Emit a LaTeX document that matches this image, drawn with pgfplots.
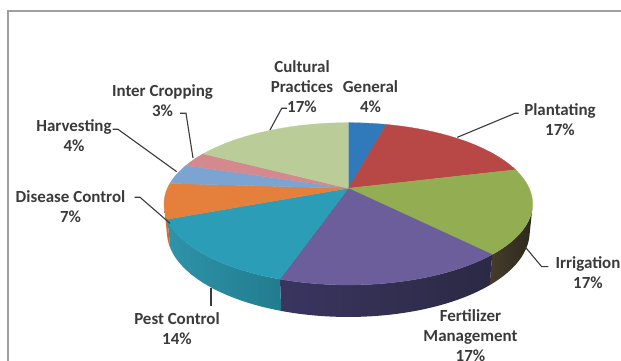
\documentclass[border=0pt]{standalone}
\usepackage{pgfplots}
\pgfplotsset{compat=1.18}
\usepackage{pgfplotstable}
\usepackage{fontspec}
\setmainfont{Carlito}

% slice shares in percent, clockwise from the back of the pie
\pgfplotstableread[col sep=comma]{
label,share
General,4
Plantating,17
Irrigation,17
Fertilizer Management,17
Pest Control,14
Disease Control,7
Harvesting,4
Inter Cropping,3
Cultural Practices,17
}\sharetable

% top faces
\definecolor{top0}{HTML}{3079BB}
\definecolor{top1}{HTML}{B84845}
\definecolor{top2}{HTML}{93AE52}
\definecolor{top3}{HTML}{6B5E9B}
\definecolor{top4}{HTML}{2B9DB7}
\definecolor{top5}{HTML}{E57F3C}
\definecolor{top6}{HTML}{7CA4D2}
\definecolor{top7}{HTML}{D4898E}
\definecolor{top8}{HTML}{BACC98}
% side walls (left and right end of the shading)
\definecolor{sideL0}{HTML}{24598B}\definecolor{sideR0}{HTML}{24598B}
\definecolor{sideL1}{HTML}{8A3533}\definecolor{sideR1}{HTML}{8A3533}
\definecolor{sideL2}{HTML}{453C2B}\definecolor{sideR2}{HTML}{2E291E}
\definecolor{sideL3}{HTML}{3A3560}\definecolor{sideR3}{HTML}{2B2944}
\definecolor{sideL4}{HTML}{2E93A9}\definecolor{sideR4}{HTML}{227C8F}
\definecolor{sideL5}{HTML}{CD7432}\definecolor{sideR5}{HTML}{C46C2D}
\definecolor{sideL6}{HTML}{5C7EA6}\definecolor{sideR6}{HTML}{5C7EA6}
\definecolor{sideL7}{HTML}{A4676B}\definecolor{sideR7}{HTML}{A4676B}
\definecolor{sideL8}{HTML}{8E9E73}\definecolor{sideR8}{HTML}{8E9E73}
\definecolor{labelgray}{HTML}{3A3A3A}
\definecolor{framegray}{HTML}{A0A0A0}

% perspective view of the pie: angle clockwise from the back, height z
\def\cx{348.3}
\def\cy{172.7}
\pgfmathdeclarefunction{pX}{2}{%
  \begingroup
  \pgfmathparse{\cx+852*sin(#1)/(4.71+0.902*cos(#1)-0.432*(#2))}%
  \pgfmathsmuggle\pgfmathresult
  \endgroup}
\pgfmathdeclarefunction{pY}{2}{%
  \begingroup
  \pgfmathparse{\cy+852*(0.432*cos(#1)+0.902*(#2))/(4.71+0.902*cos(#1)-0.432*(#2))}%
  \pgfmathsmuggle\pgfmathresult
  \endgroup}
\def\depth{-0.171}

\begin{document}
\begin{tikzpicture}
\useasboundingbox (0,0) rectangle (621bp,361bp);
\begin{axis}[
  at={(0,0)}, anchor=south west,
  x=1bp, y=1bp,
  xmin=0, xmax=621, ymin=0, ymax=361,
  hide axis, clip=true,
]
\pgfplotstablegetrowsof{\sharetable}
\pgfmathtruncatemacro\nlast{\pgfplotsretval-1}

% chart frame
\draw[framegray, line width=2bp] (axis cs:8,350) rectangle (axis cs:700,-50);

% visible side walls
\def\cum{0}
\pgfplotsforeachungrouped \i in {0,...,\nlast}{%
  \pgfplotstablegetelem{\i}{share}\of\sharetable
  \let\share\pgfplotsretval
  \pgfmathsetmacro\ta{max(3.6*\cum,103.6)}%
  \pgfmathsetmacro\tb{min(3.6*(\cum+\share),256.4)}%
  \pgfmathsetmacro\cum{\cum+\share}%
  \pgfmathtruncatemacro\vis{\tb>\ta ? 1 : 0}%
  \ifnum\vis=1
    \edef\cmd{\noexpand\path[left color=sideL\i, right color=sideR\i]
      plot[domain=\ta:\tb, samples=40, variable=\noexpand\t]
        (axis cs:{pX(\noexpand\t,0)},{pY(\noexpand\t,0)})
      -- plot[domain=\tb:\ta, samples=40, variable=\noexpand\t]
        (axis cs:{pX(\noexpand\t,\depth)},{pY(\noexpand\t,\depth)})
      -- cycle;}%
    \cmd
  \fi
}

% top faces
\def\cum{0}
\pgfplotsforeachungrouped \i in {0,...,\nlast}{%
  \pgfplotstablegetelem{\i}{share}\of\sharetable
  \let\share\pgfplotsretval
  \pgfmathsetmacro\ta{3.6*\cum}%
  \pgfmathsetmacro\tb{3.6*(\cum+\share)}%
  \pgfmathsetmacro\cum{\cum+\share}%
  \edef\cmd{\noexpand\fill[top\i, draw=top\i, line width=0.3bp]
    (axis cs:\cx,\cy)
    -- plot[domain=\ta:\tb, samples=40, variable=\noexpand\t]
      (axis cs:{pX(\noexpand\t,0)},{pY(\noexpand\t,0)})
    -- cycle;}%
  \cmd
}

% leader lines
\draw[labelgray, line width=1.1bp] (axis cs:457.3,223.7) -- (axis cs:515,247.7) -- (axis cs:518.5,247.7);
\draw[labelgray, line width=1.1bp] (axis cs:525,114.3) -- (axis cs:541.7,94.3) -- (axis cs:548.3,94.3);
\draw[labelgray, line width=1.1bp] (axis cs:211,73) -- (axis cs:211,55);
\draw[labelgray, line width=1.1bp] (axis cs:170,137.7) -- (axis cs:140,163.7) -- (axis cs:134.5,163.7);
\draw[labelgray, line width=1.1bp] (axis cs:176.7,189.3) -- (axis cs:118,231.7) -- (axis cs:112.7,231.7);
\draw[labelgray, line width=1.1bp] (axis cs:193,203) -- (axis cs:186,247.7) -- (axis cs:180,247.7);
\draw[labelgray, line width=1.1bp] (axis cs:270,231) -- (axis cs:281.7,252.7) -- (axis cs:287,252.7);

% slice labels
\tikzset{lab/.style={align=center, inner sep=0pt, text=labelgray,
  font=\bfseries\fontsize{17}{20}\selectfont}}
\node[lab] at (axis cs:370.5,264.2) {General\\4\%};
\node[lab] at (axis cs:560,241.7) {Plantating\\17\%};
\node[lab] at (axis cs:588,88.8) {Irrigation\\17\%};
\node[lab] at (axis cs:470.5,25.3) {Fertilizer\\Management\\17\%};
\node[lab] at (axis cs:177,32) {Pest Control\\14\%};
\node[lab] at (axis cs:70.5,154.3) {Disease Control\\7\%};
\node[lab] at (axis cs:74,225) {Harvesting\\4\%};
\node[lab] at (axis cs:162.5,260.6) {Inter Cropping\\3\%};
\node[lab] at (axis cs:302,274.2) {Cultural\\Practices\\17\%};
\end{axis}
\end{tikzpicture}
\end{document}
